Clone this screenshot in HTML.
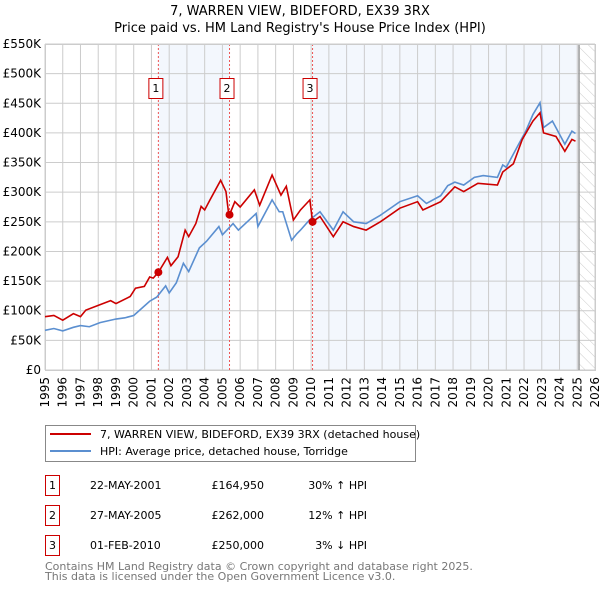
<!DOCTYPE html>
<html><head><meta charset="utf-8"><style>
body{margin:0;background:#fff;font-family:"Liberation Sans","DejaVu Sans",sans-serif;}
svg text{font-family:"DejaVu Sans","Liberation Sans",sans-serif;}
</style></head><body>
<svg id="chart" width="600" height="590" xmlns="http://www.w3.org/2000/svg">
<defs><pattern id="hatch" width="8" height="8" patternUnits="userSpaceOnUse" patternTransform="rotate(-45)"><line x1="0" y1="0" x2="0" y2="8" stroke="#ccc" stroke-width="1"/></pattern></defs>
<text x="300" y="15" text-anchor="middle" font-size="13">7, WARREN VIEW, BIDEFORD, EX39 3RX</text>
<text x="300" y="32" text-anchor="middle" font-size="13">Price paid vs. HM Land Registry's House Price Index (HPI)</text>
<g id="plot"></g>
<g>
<rect x="45.5" y="425.5" width="370" height="36" fill="#fff" stroke="#888"/>
<line x1="50" y1="434" x2="91" y2="434" stroke="#cc0000" stroke-width="2"/>
<text x="100" y="438" font-size="11">7, WARREN VIEW, BIDEFORD, EX39 3RX (detached house)</text>
<line x1="50" y1="451" x2="91" y2="451" stroke="#5b8fd0" stroke-width="2"/>
<text x="100" y="455" font-size="11">HPI: Average price, detached house, Torridge</text>
</g>
<g font-size="11">
<rect x="45.5" y="475.5" width="14" height="20" fill="#fff" stroke="#cc0000"/><text x="52.5" y="489" text-anchor="middle">1</text>
<text x="90" y="489">22-MAY-2001</text><text x="264" y="489" text-anchor="end">£164,950</text><text x="367" y="489" text-anchor="end">30% ↑ HPI</text>
<rect x="45.5" y="505.5" width="14" height="20" fill="#fff" stroke="#cc0000"/><text x="52.5" y="519" text-anchor="middle">2</text>
<text x="90" y="519">27-MAY-2005</text><text x="264" y="519" text-anchor="end">£262,000</text><text x="367" y="519" text-anchor="end">12% ↑ HPI</text>
<rect x="45.5" y="535.5" width="14" height="20" fill="#fff" stroke="#cc0000"/><text x="52.5" y="549" text-anchor="middle">3</text>
<text x="90" y="549">01-FEB-2010</text><text x="264" y="549" text-anchor="end">£250,000</text><text x="367" y="549" text-anchor="end">3% ↓ HPI</text>
</g>
<text x="45" y="570" font-size="11" fill="#777">Contains HM Land Registry data © Crown copyright and database right 2025.</text>
<text x="45" y="580" font-size="11" fill="#777">This data is licensed under the Open Government Licence v3.0.</text>
</svg>
<script>
const yTicks=[0,50,100,150,200,250,300,350,400,450,500,550];
const yTickLabels=["£0","£50K","£100K","£150K","£200K","£250K","£300K","£350K","£400K","£450K","£500K","£550K"];
const xYears=[1995,1996,1997,1998,1999,2000,2001,2002,2003,2004,2005,2006,2007,2008,2009,2010,2011,2012,2013,2014,2015,2016,2017,2018,2019,2020,2021,2022,2023,2024,2025,2026];
const saleDates=[2001.39,2005.40,2010.08];
const salePrices=[164.95,262,250];
const saleLabels=["1","2","3"];
const hpiDates=[1995,1995.5,1996,1996.6,1997,1997.5,1998.1,1999,1999.5,2000,2000.9,2001.3,2001.8,2002,2002.4,2002.8,2003.1,2003.7,2004.1,2004.8,2005,2005.6,2005.9,2006.9,2007,2007.8,2008.2,2008.4,2008.9,2009.2,2009.4,2009.9,2010.5,2011.25,2011.8,2012.4,2013.1,2013.9,2015,2016,2016.5,2017.3,2017.7,2018.1,2018.6,2019.2,2019.7,2020.5,2020.8,2021,2021.7,2022.1,2022.5,2022.9,2023.1,2023.6,2024.3,2024.7,2024.9];
const hpiValues=[67,70,66,72,75,73,80,86,88,92,116,123,142,130,147,180,166,206,217,242,228,247,236,264,242,287,267,267,219,230,236,253,267,236,267,250,247,261,284,294,281,294,311,317,312,325,328,325,346,342,381,403,431,451,409,420,381,403,399];
const redDates=[1995,1995.5,1996,1996.6,1997,1997.3,1998,1998.7,1999,1999.8,2000.1,2000.6,2000.9,2001.1,2001.39,2001.9,2002.1,2002.5,2002.9,2003.1,2003.5,2003.8,2004,2004.3,2004.9,2005.2,2005.35,2005.4,2005.7,2006,2006.8,2007.1,2007.8,2008.3,2008.6,2009,2009.4,2009.93,2010.08,2010.5,2011.25,2011.8,2012.4,2013.1,2013.9,2015,2016,2016.3,2017.3,2018.1,2018.6,2019.4,2020.5,2020.8,2021.4,2021.9,2022.5,2022.9,2023.1,2023.8,2024.3,2024.7,2024.9];
const redValues=[90,92,84,95,90,101,109,117,112,124,138,141,157,155,164.95,190,176,191,236,225,247,276,270,287,320,301,264,262,284,275,304,278,329,295,310,253,270,287,250,259,225,250,242,236,250,273,284,270,284,309,301,315,312,334,348,389,420,434,400,394,369,389,386];

const L=45,R=595,T=44,B=370;
const X=y=>L+(y-1995)*(R-L)/31;
const Y=v=>B-v*(B-T)/550;
const NS="http://www.w3.org/2000/svg";
const g=document.getElementById('plot');
function mk(tag,attrs,parent){const e=document.createElementNS(NS,tag);for(const k in attrs)e.setAttribute(k,attrs[k]);(parent||g).appendChild(e);return e;}
const bg=mk('rect',{x:L,y:T,width:R-L,height:B-T,fill:'#fff'});


const s1=mk('rect',{x:X(saleDates[0]),y:T,width:X(saleDates[1])-X(saleDates[0]),height:B-T,fill:'#eef3fc',opacity:0.7});


const s2=mk('rect',{x:X(saleDates[2]),y:T,width:X(2025.1)-X(saleDates[2]),height:B-T,fill:'#eef3fc',opacity:0.7});


const hz=mk('rect',{x:X(2025.1),y:T,width:R-X(2025.1),height:B-T,fill:'url(#hatch)'});


xYears.forEach(yr=>{
 const l=mk('line',{x1:X(yr),x2:X(yr),y1:T,y2:B,stroke:'#ccc','stroke-width':1});
 
 
 const t=mk('text',{x:0,y:0,'font-size':12,'text-anchor':'end',transform:`translate(${X(yr)+4},${B+7}) rotate(-90)`});
 t.textContent=yr;
 
 
});
yTicks.forEach((v,i)=>{
 const l=mk('line',{x1:L,x2:R,y1:Y(v),y2:Y(v),stroke:'#ccc','stroke-width':1});
 
 
 const t=mk('text',{x:L-4,y:Y(v)+4,'font-size':12,'text-anchor':'end'});
 t.textContent=yTickLabels[i];
 
 
});
const ed=mk('line',{x1:X(2025.1),x2:X(2025.1),y1:T,y2:B,stroke:'#999','stroke-width':1.5});


saleDates.forEach((d,i)=>{
 const l=mk('line',{x1:X(d),x2:X(d),y1:T,y2:B,stroke:'#e55','stroke-width':1,'stroke-dasharray':'2,2'});
 
 
 const r=mk('rect',{x:X(d)-9.5,y:78.5,width:14,height:20,fill:'#fff',stroke:'#cc0000'});
 
 
 const t=mk('text',{x:X(d)-2.5,y:92,'font-size':11,'text-anchor':'middle'});
 t.textContent=saleLabels[i];
 
 
});
const fr=mk('rect',{x:L+0.5,y:T+0.5,width:R-L,height:B-T,fill:'none',stroke:'#ccc'});


const hp=mk('polyline',{points:hpiDates.map((d,i)=>X(d)+','+Y(hpiValues[i])).join(' '),fill:'none',stroke:'#5b8fd0','stroke-width':1.6});


const rp=mk('polyline',{points:redDates.map((d,i)=>X(d)+','+Y(redValues[i])).join(' '),fill:'none',stroke:'#cc0000','stroke-width':1.6});


saleDates.forEach((d,i)=>{
 const c=mk('circle',{cx:X(d),cy:Y(salePrices[i]),r:4,fill:'#cc0000'});
 
 
});
</script>
</body></html>
